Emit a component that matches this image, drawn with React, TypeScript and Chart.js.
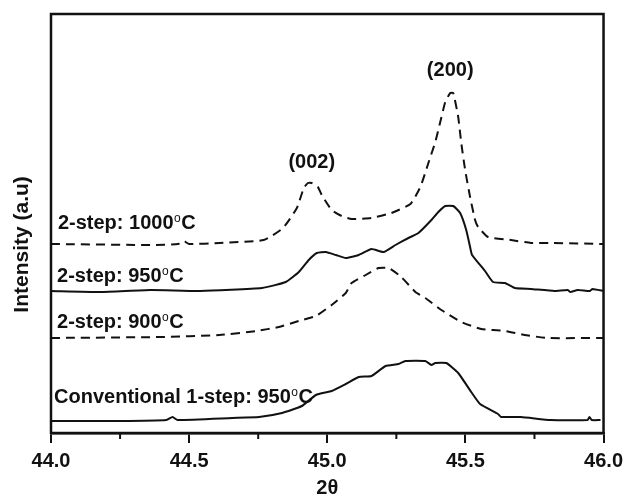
import React, { useEffect, useRef } from "react";
import { Chart, registerables } from "chart.js";
Chart.register(...registerables);

// 2-step: 1000°C (dashed)
const theta1000 = [44.0, 44.36, 44.46, 44.48, 44.5, 44.61, 44.77, 44.84, 44.89, 44.915, 44.93, 44.944, 44.966, 44.98, 45.016, 45.052, 45.088, 45.16, 45.232, 45.301, 45.337, 45.366, 45.391, 45.409, 45.427, 45.445, 45.456, 45.474, 45.485, 45.499, 45.517, 45.535, 45.546, 45.582, 45.665, 45.737, 45.809, 46.0];
const int1000 = [189, 188, 189, 192, 189, 190, 193, 205, 225, 245, 250, 250, 246, 238, 223, 217, 214, 215, 220, 229, 246, 270, 291, 311, 331, 340, 340, 316, 290, 263, 236, 213, 206, 196, 193, 190, 190, 189];

// 2-step: 950°C (solid)
const theta950 = [44.0, 44.18, 44.36, 44.54, 44.764, 44.85, 44.897, 44.933, 44.962, 44.995, 45.031, 45.067, 45.114, 45.16, 45.204, 45.247, 45.294, 45.33, 45.377, 45.402, 45.427, 45.456, 45.481, 45.503, 45.517, 45.524, 45.571, 45.6, 45.643, 45.679, 45.737, 45.823, 45.87, 45.88, 45.906, 45.95, 45.96, 46.0];
const int950 = [142, 141, 143, 142, 145, 151, 161, 173, 180, 181, 178, 175, 178, 184, 181, 188, 195, 200, 213, 221, 227, 227, 220, 203, 186, 178, 162, 151, 150, 145, 144, 142, 143, 141, 143, 142, 144, 142];

// 2-step: 900°C (dashed)
const theta900 = [44.0, 44.393, 44.609, 44.742, 44.825, 44.897, 44.959, 45.016, 45.067, 45.088, 45.139, 45.186, 45.222, 45.268, 45.319, 45.355, 45.413, 45.485, 45.557, 45.643, 45.715, 45.798, 46.0];
const int900 = [95, 96, 98, 102, 106, 112, 117, 128, 140, 150, 158, 165, 165, 156, 141, 135, 123, 111, 104, 102, 98, 95, 95];

// Conventional 1-step: 950°C (solid)
const thetaConv = [44.0, 44.249, 44.418, 44.44, 44.458, 44.656, 44.753, 44.836, 44.908, 44.959, 45.016, 45.067, 45.114, 45.16, 45.211, 45.258, 45.283, 45.355, 45.377, 45.391, 45.431, 45.474, 45.521, 45.553, 45.618, 45.629, 45.701, 45.809, 45.942, 45.949, 45.957, 45.989];
const intConv = [12, 12, 13, 16, 13, 15, 16, 20, 27, 38, 42, 49, 56, 57, 67, 69, 72, 72, 68, 70, 70, 60, 41, 29, 19, 16, 16, 13, 13, 16, 13, 13];

const minorTicks = [44.25, 44.75, 45.25, 45.75];

const curveLabels = [
  { main: "2-step: 1000", tail: "C", x: 44.025, y: 204 },
  { main: "2-step: 950", tail: "C", x: 44.022, y: 151 },
  { main: "2-step: 900", tail: "C", x: 44.022, y: 105 },
  { main: "Conventional 1-step: 950", tail: "C", x: 44.011, y: 30 },
];
const peakLabels = [
  { text: "(002)", x: 44.944, y: 265 },
  { text: "(200)", x: 45.445, y: 357 },
];

const INK = "#111111";
const FONT = "'Liberation Sans', Arial, sans-serif";

const toPoints = (xs: number[], ys: number[]) => xs.map((v, i) => ({ x: v, y: ys[i] }));

const overlay = {
  id: "overlay",
  afterDraw(chart: any) {
    const { ctx, chartArea: a, scales } = chart;
    const xs = scales.x;
    const ys = scales.y;
    ctx.save();
    ctx.strokeStyle = INK;
    ctx.lineWidth = 2.5;
    ctx.strokeRect(a.left, a.top, a.right - a.left, a.bottom - a.top);
    ctx.lineWidth = 2;
    minorTicks.forEach((v) => {
      const px = xs.getPixelForValue(v);
      ctx.beginPath();
      ctx.moveTo(px, a.bottom);
      ctx.lineTo(px, a.bottom + 6);
      ctx.stroke();
    });
    ctx.fillStyle = INK;
    ctx.textBaseline = "alphabetic";
    ctx.textAlign = "left";
    curveLabels.forEach((l) => {
      const px = xs.getPixelForValue(l.x);
      const py = ys.getPixelForValue(l.y);
      ctx.font = `bold 20px ${FONT}`;
      ctx.fillText(l.main, px, py);
      const w1 = ctx.measureText(l.main).width;
      ctx.font = `12px ${FONT}`;
      ctx.fillText("o", px + w1 + 0.5, py - 7);
      const w2 = ctx.measureText("o").width;
      ctx.font = `bold 20px ${FONT}`;
      ctx.fillText(l.tail, px + w1 + w2 + 1, py);
    });
    ctx.textAlign = "center";
    ctx.font = `bold 20px ${FONT}`;
    peakLabels.forEach((l) => {
      ctx.fillText(l.text, xs.getPixelForValue(l.x), ys.getPixelForValue(l.y));
    });
    ctx.translate(22, a.top + (a.bottom - a.top) * 0.55);
    ctx.rotate(-Math.PI / 2);
    ctx.textBaseline = "middle";
    ctx.font = `bold 21px ${FONT}`;
    ctx.fillText("Intensity (a.u)", 0, 0);
    ctx.restore();
  },
};

export default function App() {
  const ref = useRef<HTMLCanvasElement | null>(null);
  useEffect(() => {
    if (!ref.current) return;
    const line = (xs: number[], ys: number[], dashed: boolean) => ({
      data: toPoints(xs, ys),
      borderColor: INK,
      borderWidth: 2,
      borderDash: dashed ? [9, 6] : [],
      pointRadius: 0,
      tension: 0.15,
      fill: false,
    });
    const chart = new Chart(ref.current, {
      type: "line",
      data: {
        datasets: [
          line(theta1000, int1000, true),
          line(theta950, int950, false),
          line(theta900, int900, true),
          line(thetaConv, intConv, false),
        ],
      },
      options: {
        animation: false,
        responsive: false,
        layout: { padding: { left: 51, top: 14, right: 23, bottom: 0 } },
        plugins: { legend: { display: false }, tooltip: { enabled: false } },
        scales: {
          x: {
            type: "linear",
            min: 44,
            max: 46,
            afterFit: (s: any) => {
              s.height = 65;
            },
            border: { display: true, color: INK, width: 2.5 },
            grid: { drawOnChartArea: false, drawTicks: true, tickLength: 10, lineWidth: 2, color: INK },
            ticks: {
              stepSize: 0.5,
              padding: 6,
              color: INK,
              font: { family: FONT, size: 20, weight: "bold" },
              callback: (v: any) => Number(v).toFixed(1),
            },
            title: {
              display: true,
              text: "2θ",
              color: INK,
              padding: { top: 0, bottom: 0 },
              font: { family: FONT, size: 20, weight: "bold", lineHeight: 1 },
            },
          },
          y: { type: "linear", min: 0, max: 419, display: false },
        },
      },
      plugins: [overlay],
    } as any);
    return () => chart.destroy();
  }, []);
  return (
    <div style={{ position: "absolute", left: 0, top: 0, width: 629, height: 498 }}>
      <canvas ref={ref} width={629} height={498} />
    </div>
  );
}
